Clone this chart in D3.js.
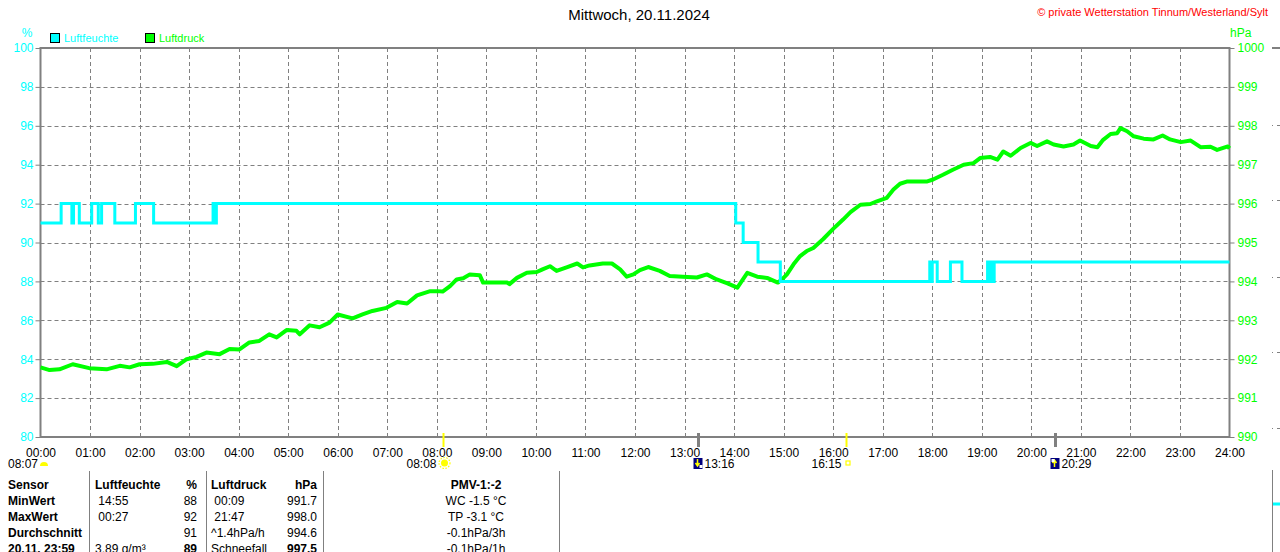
<!DOCTYPE html>
<html>
<head>
<meta charset="utf-8">
<script src="https://cdn.jsdelivr.net/npm/d3@7"></script>
<style>
  body { margin: 0; background: #fff; }
  svg { display: block; font-family: "Liberation Sans", Arial, sans-serif; }
</style>
</head>
<body>
<svg id="chart" width="1280" height="552"></svg>
<script>
// ---- data ----
const title = "Mittwoch, 20.11.2024";
const copyright = "© private Wetterstation Tinnum/Westerland/Sylt";

const timeTicks = ["00:00","01:00","02:00","03:00","04:00","05:00","06:00","07:00","08:00","09:00","10:00","11:00",
  "12:00","13:00","14:00","15:00","16:00","17:00","18:00","19:00","20:00","21:00","22:00","23:00","24:00"];
const humTicks = [80, 82, 84, 86, 88, 90, 92, 94, 96, 98, 100];
const pressTicks = [990, 991, 992, 993, 994, 995, 996, 997, 998, 999, 1000];

// Luftfeuchte (%), step changes: minute of day -> value
const humMin = [0, 25, 38, 40, 47, 62, 70, 74, 90, 115, 137, 209, 211, 213, 842, 851, 869, 896,
  1077, 1079, 1080, 1086, 1102, 1116, 1147, 1149, 1151, 1153, 1155, 1440];
const humVal = [91, 92, 91, 92, 91, 92, 91, 92, 91, 92, 91, 92, 91, 92, 91, 90, 89, 88,
  89, 88, 89, 88, 89, 88, 89, 88, 89, 88, 89, 89];

// Luftdruck (hPa): minute of day -> value
const pressMin = [0,11,23,39,59,80,96,108,120,136,153,165,177,189,201,217,229,241,253,265,
  277,286,298,310,314,326,338,350,360,378,390,402,419,432,444,456,472,480,487,496,
  504,512,520,532,536,548,565,568,577,589,601,608,617,625,638,650,657,665,681,692,
  702,710,718,726,736,750,762,778,795,807,819,832,844,856,868,880,893,899,904,912,
  920,928,936,948,960,972,981,993,1005,1013,1025,1033,1041,1050,1062,1074,1081,1093,1105,1118,
  1130,1138,1150,1159,1166,1175,1187,1199,1207,1219,1227,1239,1251,1259,1272,1280,1287,1296,1304,1308,
  1316,1324,1336,1348,1359,1368,1381,1393,1405,1417,1425,1438,1440];
const pressVal = [991.79,991.72,991.74,991.87,991.77,991.74,991.83,991.79,991.87,991.88,
  991.93,991.82,992.00,992.06,992.17,992.13,992.26,992.25,992.43,992.47,
  992.64,992.56,992.75,992.73,992.64,992.87,992.82,992.94,993.15,993.05,
  993.15,993.24,993.32,993.47,993.43,993.64,993.75,993.75,993.74,993.88,
  994.05,994.08,994.18,994.16,993.97,993.97,993.97,993.93,994.09,994.22,
  994.24,994.31,994.39,994.27,994.37,994.46,994.36,994.41,994.46,994.46,
  994.31,994.12,994.18,994.29,994.37,994.27,994.14,994.12,994.10,994.18,
  994.05,993.95,993.84,994.22,994.12,994.09,993.97,994.07,994.18,994.44,
  994.65,994.78,994.86,995.09,995.35,995.59,995.78,995.97,995.99,996.06,
  996.15,996.36,996.51,996.57,996.57,996.57,996.62,996.74,996.87,997.00,
  997.04,997.17,997.20,997.13,997.34,997.23,997.43,997.56,997.48,997.60,
  997.52,997.47,997.52,997.62,997.48,997.45,997.64,997.79,997.81,997.94,
  997.86,997.73,997.67,997.65,997.75,997.65,997.58,997.62,997.45,997.46,
  997.38,997.47,997.42];

// sun / moon events below the time axis
const events = [
  { time: "08:08", kind: "sunrise" },
  { time: "13:16", kind: "moonset" },
  { time: "16:15", kind: "sunset" },
  { time: "20:29", kind: "moonrise" }
];

// table below the chart
const tableRows = [
  ["Sensor", "Luftfeuchte", "%", "Luftdruck", "hPa", "PMV-1:-2"],
  ["MinWert", " 14:55", "88", " 00:09", "991.7", "WC -1.5 °C"],
  ["MaxWert", " 00:27", "92", " 21:47", "998.0", "TP -3.1 °C"],
  ["Durchschnitt", "", "91", "^1.4hPa/h", "994.6", "-0.1hPa/3h"],
  ["20.11. 23:59", "3.89 g/m³", "89", "Schneefall", "997.5", "-0.1hPa/1h"]
];

// ---- drawing ----
const cyan = "#00ffff", green = "#00ff00", grey = "#808080";
const svg = d3.select("#chart");
svg.append("rect").attr("width", 1280).attr("height", 552).attr("fill", "#fff");

const toMin = s => { const [h, m] = s.split(":").map(Number); return h * 60 + m; };

const x = d3.scaleLinear().domain([0, 1440]).range([40.5, 1229.5]);
const yH = d3.scaleLinear().domain([80, 100]).range([437, 48]);
const yP = d3.scaleLinear().domain([990, 1000]).range([437, 48]);

// grid
const grid = svg.append("g").attr("stroke", grey).attr("stroke-dasharray", "4,3").attr("stroke-width", 1);
grid.selectAll(".gy").data(humTicks.slice(1, -1)).join("line")
  .attr("x1", x(0)).attr("x2", x(1440))
  .attr("y1", d => Math.round(yH(d)) + 0.5).attr("y2", d => Math.round(yH(d)) + 0.5);
grid.selectAll(".gx").data(timeTicks.slice(1, -1)).join("line")
  .attr("x1", d => Math.round(x(toMin(d))) + 0.5).attr("x2", d => Math.round(x(toMin(d))) + 0.5)
  .attr("y1", yH(100)).attr("y2", yH(80));

// left axis (Luftfeuchte)
const axL = svg.append("g").attr("transform", `translate(${x(0)},0)`)
  .call(d3.axisLeft(yH).tickValues(humTicks).tickSize(5).tickPadding(2).tickFormat(d3.format("d")));
axL.select(".domain").remove();
axL.selectAll("line").attr("stroke", grey);
axL.selectAll("text").attr("fill", cyan).attr("font-size", 12);

// right axis (Luftdruck)
const axR = svg.append("g").attr("transform", `translate(${x(1440)},0)`)
  .call(d3.axisRight(yP).tickValues(pressTicks).tickSize(5).tickPadding(3).tickFormat(d3.format("d")));
axR.select(".domain").remove();
axR.selectAll("line").attr("stroke", grey);
axR.selectAll("text").attr("fill", green).attr("font-size", 12);

// bottom axis (time)
const axB = svg.append("g").attr("transform", `translate(0,${yH(80)})`)
  .call(d3.axisBottom(x).tickValues(timeTicks.map(toMin)).tickSize(0).tickPadding(11)
    .tickFormat((d, i) => timeTicks[i]));
axB.select(".domain").remove();
axB.selectAll("text").attr("fill", "#000").attr("font-size", 12);

// frame
svg.append("rect")
  .attr("x", x(0)).attr("y", yH(100))
  .attr("width", x(1440) - x(0)).attr("height", yH(80) - yH(100))
  .attr("fill", "none").attr("stroke", grey).attr("stroke-width", 2);

// series
svg.append("path")
  .datum(pressMin.map((m, i) => [m, pressVal[i]]))
  .attr("fill", "none").attr("stroke", green).attr("stroke-width", 4)
  .attr("stroke-linejoin", "round")
  .attr("d", d3.line().x(d => x(d[0])).y(d => yP(d[1])));

svg.append("path")
  .datum(humMin.map((m, i) => [m, humVal[i]]))
  .attr("fill", "none").attr("stroke", cyan).attr("stroke-width", 3)
  .attr("d", d3.line().curve(d3.curveStepAfter).x(d => x(d[0])).y(d => yH(d[1])));

// event markers on the time axis
events.forEach(e => {
  const ex = Math.round(x(toMin(e.time))) + 0.5;
  const sun = e.kind.startsWith("sun");
  svg.append("line").attr("x1", ex).attr("x2", ex).attr("y1", 433).attr("y2", 447)
    .attr("stroke", sun ? "#ffff00" : grey).attr("stroke-width", sun ? 2 : 3);
  const g = svg.append("g").attr("font-size", 12);
  if (e.kind === "sunrise") {
    g.append("text").attr("x", ex - 7).attr("y", 468).attr("text-anchor", "end").text(e.time);
    g.append("circle").attr("cx", ex + 1).attr("cy", 463).attr("r", 3.5).attr("fill", "#ffff00");
    g.append("circle").attr("cx", ex + 1).attr("cy", 463).attr("r", 5.5).attr("fill", "none")
      .attr("stroke", "#ffff00").attr("stroke-width", 1.2).attr("stroke-dasharray", "1.5,1.5");
  } else if (e.kind === "sunset") {
    g.append("text").attr("x", ex - 5).attr("y", 468).attr("text-anchor", "end").text(e.time);
    g.append("rect").attr("x", ex - 0.5).attr("y", 461).attr("width", 4).attr("height", 4)
      .attr("fill", "none").attr("stroke", "#ffff00").attr("stroke-width", 1.2);
  } else {
    g.append("rect").attr("x", ex - 5).attr("y", 458).attr("width", 9).attr("height", 11).attr("fill", "#00007f");
    const up = e.kind === "moonrise";
    g.append("path")
      .attr("d", up ? `M${ex - 1},467 V461 M${ex - 3},463 L${ex - 1},460 L${ex + 1},463`
                    : `M${ex - 1},459 V465 M${ex - 3},463 L${ex - 1},466 L${ex + 1},463`)
      .attr("fill", "none").attr("stroke", "#ffff00").attr("stroke-width", 1.5);
    g.append("rect").attr("x", up ? ex - 4 : ex + 1).attr("y", up ? 459 : 465)
      .attr("width", 3).attr("height", 3).attr("fill", "#fff");
    g.append("text").attr("x", ex + 6).attr("y", 468).text(e.time);
  }
});
// previous day sunrise at left edge
svg.append("text").attr("x", 8).attr("y", 468).attr("font-size", 12).text("08:07");
svg.append("path").attr("d", "M40,466 A4,4 0 0 1 48,466 Z").attr("fill", "#ffff00");

// titles, units, legend
svg.append("text").attr("x", 639).attr("y", 20).attr("text-anchor", "middle")
  .attr("font-size", 15).text(title);
svg.append("text").attr("x", 1268).attr("y", 16).attr("text-anchor", "end")
  .attr("font-size", 11).attr("fill", "#ff0000").text(copyright);
svg.append("text").attr("x", 27).attr("y", 37).attr("text-anchor", "middle")
  .attr("font-size", 12).attr("fill", cyan).text("%");
svg.append("text").attr("x", 1230).attr("y", 37)
  .attr("font-size", 12).attr("fill", green).text("hPa");

const legend = [{ name: "Luftfeuchte", color: cyan, x: 50 }, { name: "Luftdruck", color: green, x: 145 }];
legend.forEach(l => {
  svg.append("rect").attr("x", l.x + 0.5).attr("y", 33.5).attr("width", 9).attr("height", 9)
    .attr("fill", l.color).attr("stroke", "#000");
  svg.append("text").attr("x", l.x + 14).attr("y", 42).attr("font-size", 11)
    .attr("fill", l.color).text(l.name);
});

// table
const cols = [
  { x: 8, anchor: "start" }, { x: 95, anchor: "start" }, { x: 197, anchor: "end" },
  { x: 211, anchor: "start" }, { x: 317, anchor: "end" }, { x: 476, anchor: "middle" }
];
const boldCells = (r, c) => r === 0 || c === 0 || (r === 4 && (c === 2 || c === 4));
const table = svg.append("g").attr("font-size", 12);
tableRows.forEach((row, r) => {
  row.forEach((cell, c) => {
    table.append("text")
      .attr("x", cols[c].x).attr("y", 489 + r * 16)
      .attr("text-anchor", cols[c].anchor)
      .attr("font-weight", boldCells(r, c) ? "bold" : "normal")
      .attr("xml:space", "preserve")
      .text(cell);
  });
});
[89.5, 206.5, 323.5, 559.5].forEach(sx => {
  table.append("line").attr("x1", sx).attr("x2", sx).attr("y1", 471).attr("y2", 552)
    .attr("stroke", grey).attr("stroke-width", 1);
});

// fragment of the neighbouring panel at the right edge
const frag = svg.append("g");
frag.append("line").attr("x1", 1272).attr("x2", 1280).attr("y1", 48).attr("y2", 48)
  .attr("stroke", grey).attr("stroke-width", 2);
[125, 200, 277, 352, 428].forEach(fy => {
  frag.append("line").attr("x1", 1272).attr("x2", 1280).attr("y1", fy + 0.5).attr("y2", fy + 0.5)
    .attr("stroke", grey).attr("stroke-dasharray", "1,4,4,4");
});
frag.append("line").attr("x1", 1272.5).attr("x2", 1272.5).attr("y1", 470).attr("y2", 552)
  .attr("stroke", grey);
frag.append("line").attr("x1", 1273).attr("x2", 1280).attr("y1", 504).attr("y2", 504)
  .attr("stroke", cyan).attr("stroke-width", 3);
</script>
</body>
</html>
